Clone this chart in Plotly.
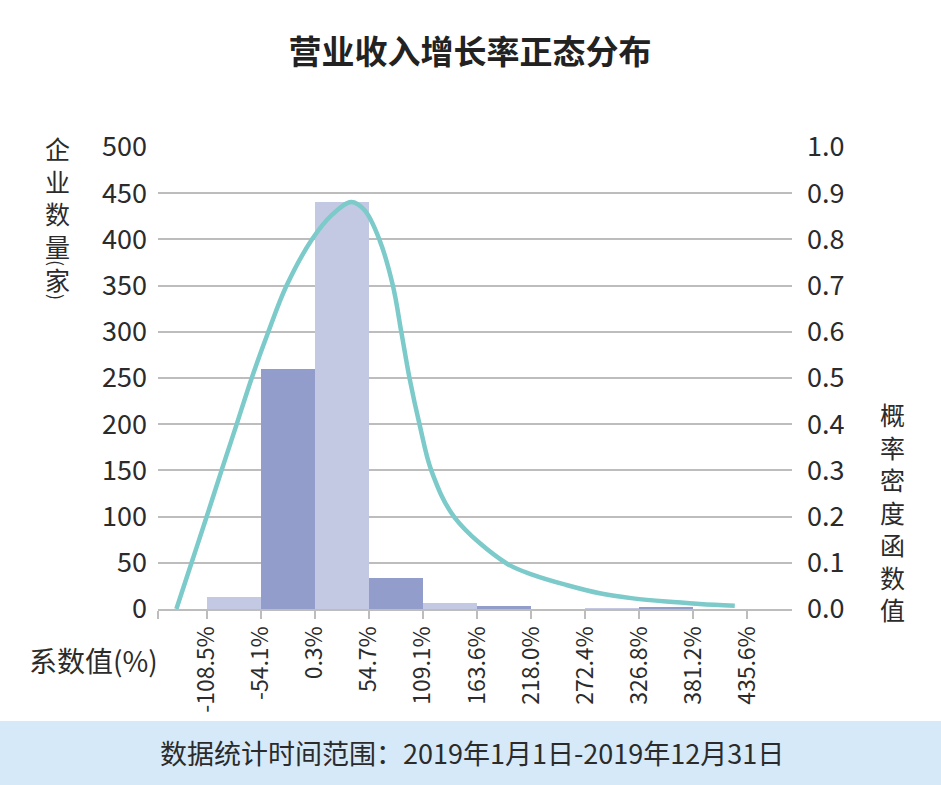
import plotly.graph_objects as go

# ---------------- data ----------------
bin_edges = [-108.5, -54.1, 0.3, 54.7, 109.1, 163.6, 218.0, 272.4, 326.8, 381.2, 435.6]
tick_labels = ["-108.5%", "-54.1%", "0.3%", "54.7%", "109.1%", "163.6%",
               "218.0%", "272.4%", "326.8%", "381.2%", "435.6%"]
counts = [13, 260, 441, 34, 7, 3, 0, 1, 2, 0]
bar_shade = ["light", "dark", "light", "dark", "light", "dark", "light", "light", "dark", "light"]

curve_x = [-139.0, -123.9, -108.8, -93.7, -78.6, -63.5, -46.8, -28.3, -3.1, 17.0, 37.1,
           50.5, 65.6, 79.0, 87.5, 95.8, 105.9, 117.7, 141.1, 193.1, 219.9, 253.6,
           287.1, 320.6, 354.2, 387.7, 423.0]
curve_y = [0.0, 0.099, 0.198, 0.299, 0.398, 0.498, 0.598, 0.699, 0.798, 0.852, 0.881,
           0.863, 0.798, 0.699, 0.598, 0.498, 0.398, 0.299, 0.198, 0.099, 0.074, 0.052,
           0.034, 0.023, 0.016, 0.011, 0.007]

left_ticks = [0, 50, 100, 150, 200, 250, 300, 350, 400, 450, 500]
right_ticks = [0.0, 0.1, 0.2, 0.3, 0.4, 0.5, 0.6, 0.7, 0.8, 0.9, 1.0]

title_text = "营业收入增长率正态分布"
left_title_main = ["企", "业", "数", "量"]
left_title_unit = "家"
right_title_chars = ["概", "率", "密", "度", "函", "数", "值"]
x_title = "系数值(%)"
footer_text = "数据统计时间范围：2019年1月1日-2019年12月31日"

# ---------------- styles ----------------
FONT = "Noto Sans CJK SC"
TXT = "#2b2b2b"
GRID = "#bdbdbd"
shade_colors = {"light": "#c4c9e3", "dark": "#939dcb"}
CURVE = "#7ccaca"

# plot area in pixels: x 158..792, y 147..609
PL, PR, PT, PB = 158, 792, 147, 609
def px(x):
    return (x - PL) / (PR - PL)
def py(y):
    return (PB - y) / (PB - PT)

centers = [(a + b) / 2 for a, b in zip(bin_edges[:-1], bin_edges[1:])]
widths = [b - a for a, b in zip(bin_edges[:-1], bin_edges[1:])]

fig = go.Figure()
fig.add_trace(go.Bar(
    x=centers, y=counts, width=widths,
    marker=dict(color=[shade_colors[s] for s in bar_shade], line=dict(width=0)),
    showlegend=False, hoverinfo="skip"))
fig.add_trace(go.Scatter(
    x=curve_x, y=curve_y, yaxis="y2", mode="lines",
    line=dict(color=CURVE, width=4.5, shape="spline", smoothing=1.0),
    showlegend=False, hoverinfo="skip"))

x_range = [-157.5, 480.6]

fig.update_layout(
    width=941, height=785,
    margin=dict(l=PL, r=941 - PR, t=PT, b=785 - PB, pad=0),
    paper_bgcolor="white", plot_bgcolor="white",
    font=dict(family=FONT, color=TXT, size=26),
    bargap=0,
    title=dict(text="<b>" + title_text + "</b>", x=0.4995, xanchor="center",
               y=1 - 52 / 785, yanchor="middle",
               font=dict(family=FONT, size=33, color="#222222")),
    xaxis=dict(range=x_range, tickmode="array",
               tickvals=[x_range[0]] + bin_edges, ticktext=[""] + tick_labels,
               tickangle=-90, ticks="outside", ticklen=8, tickwidth=2, tickcolor=GRID,
               ticklabelstandoff=-2,
               showline=True, linecolor=GRID, linewidth=2,
               showgrid=False, zeroline=False,
               tickfont=dict(family=FONT, size=23, color=TXT)),
    yaxis=dict(range=[0, 500], tickmode="array", tickvals=left_ticks,
               showgrid=True, gridcolor=GRID, gridwidth=2, zeroline=False,
               ticks="", ticklabelstandoff=10,
               tickfont=dict(family=FONT, size=27, color=TXT)),
    yaxis2=dict(range=[0, 1], overlaying="y", side="right", tickmode="array",
                tickvals=right_ticks, ticktext=[f"{v:.1f}" for v in right_ticks],
                showgrid=False, zeroline=False, ticks="", ticklabelstandoff=14,
                tickfont=dict(family=FONT, size=27, color=TXT)),
)

# footer band
fig.add_shape(type="rect", xref="paper", yref="paper",
              x0=px(0), x1=px(941), y0=py(786), y1=py(721),
              fillcolor="#d6e9f8", line=dict(width=0), layer="below")

# left stacked title: main characters as one stacked text
fig.add_annotation(text="<br>".join(left_title_main), xref="paper", yref="paper",
                   x=px(57), y=py(197), showarrow=False,
                   xanchor="center", yanchor="middle",
                   font=dict(family=FONT, size=25, color=TXT))
# unit character with vertical parentheses (rotated)
fig.add_annotation(text=left_title_unit, xref="paper", yref="paper",
                   x=px(57), y=py(279), showarrow=False,
                   xanchor="center", yanchor="middle",
                   font=dict(family=FONT, size=25, color=TXT))
for ch, yy in (("(", 263), (")", 297)):
    fig.add_annotation(text=ch, xref="paper", yref="paper", x=px(57), y=py(yy),
                       showarrow=False, xanchor="center", yanchor="middle",
                       textangle=90, borderpad=0,
                       font=dict(family=FONT, size=18, color=TXT))

# right stacked title
fig.add_annotation(text="<br>".join(right_title_chars), xref="paper", yref="paper",
                   x=px(893), y=py(511), showarrow=False,
                   xanchor="center", yanchor="middle",
                   font=dict(family=FONT, size=25, color=TXT))

fig.add_annotation(text=x_title, xref="paper", yref="paper",
                   x=px(93), y=py(660),
                   showarrow=False, xanchor="center", yanchor="middle",
                   font=dict(family=FONT, size=28, color=TXT))
fig.add_annotation(text=footer_text, xref="paper", yref="paper",
                   x=px(472), y=py(752),
                   showarrow=False, xanchor="center", yanchor="middle",
                   font=dict(family=FONT, size=27, color=TXT))

fig.write_html("out.html")
